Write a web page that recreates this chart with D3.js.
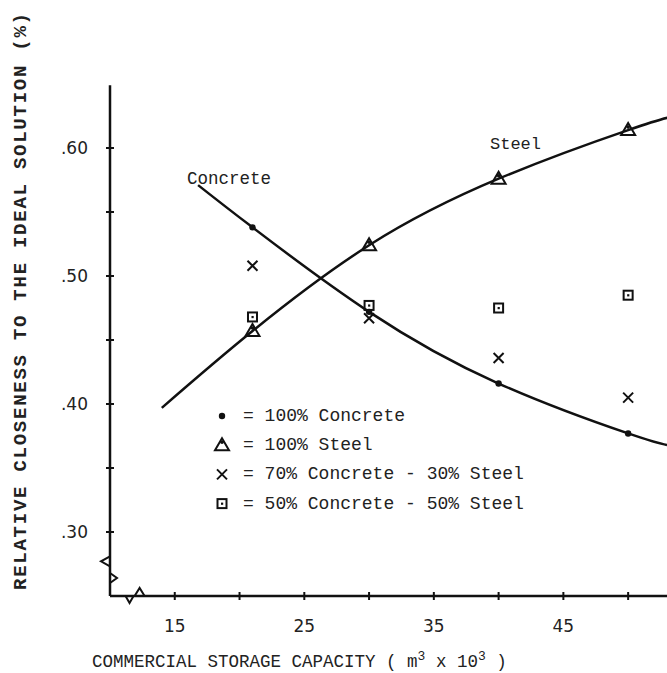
<!DOCTYPE html>
<html lang="en">
<head>
  <meta charset="UTF-8">
  <title>Relative closeness vs storage capacity</title>
  <script src="https://d3js.org/d3.v7.min.js"></script>
  <style>
    body { margin: 0; background: #fff; }
    .axis-line { stroke: #111; stroke-width: 2.5px; fill: none; }
    .curve { stroke: #111; stroke-width: 2.5px; fill: none; }
    .tick-label { font: 17px "DejaVu Sans", sans-serif; fill: #222; }
    .mono { font-family: "Liberation Mono", "DejaVu Sans Mono", monospace; fill: #222; }
  </style>
</head>
<body>
  <svg width="667" height="673"></svg>
  <script>
    // points (x in 1000 m3)
    const capacity = [21, 30, 40, 50];
    const concrete100 = [0.538, 0.472, 0.416, 0.377];
    const steel100 = [0.457, 0.524, 0.576, 0.614];
    const mix70_30 = [0.508, 0.467, 0.436, 0.405];
    const mix50_50 = [0.468, 0.477, 0.475, 0.485];

    // hand drawn fitted curves
    const concreteCurveX = [16.8, 21, 30, 40, 50, 53];
    const concreteCurveY = [0.571, 0.538, 0.472, 0.416, 0.377, 0.368];
    const steelCurveX = [14, 21, 30, 40, 50, 53.2];
    const steelCurveY = [0.397, 0.457, 0.524, 0.576, 0.614, 0.624];

    const xLabelTicks = [15, 25, 35, 45];
    const xMinorTicks = [20, 30, 40, 50];
    const yLabelTicks = [0.30, 0.40, 0.50, 0.60];
    const yMinorTicks = [0.35, 0.45, 0.55];

    const legendItems = ["100% Concrete", "100% Steel", "70% Concrete - 30% Steel", "50% Concrete - 50% Steel"];

    const svg = d3.select("svg");
    const x = d3.scaleLinear().domain([10, 53]).range([110, 667]);
    const y = d3.scaleLinear().domain([0.25, 0.65]).range([596, 84]);

    // axes
    svg.append("line").attr("class", "axis-line")
      .attr("x1", x(10)).attr("x2", x(10)).attr("y1", y(0.649)).attr("y2", y(0.25));
    svg.append("line").attr("class", "axis-line")
      .attr("x1", x(10)).attr("x2", x(53)).attr("y1", y(0.25)).attr("y2", y(0.25));

    yLabelTicks.concat(yMinorTicks).forEach(v => {
      svg.append("line").attr("class", "axis-line").style("stroke-width", 2)
        .attr("x1", x(10) - 4).attr("x2", x(10) + 4).attr("y1", y(v)).attr("y2", y(v));
    });
    yLabelTicks.forEach(v => {
      svg.append("text").attr("class", "tick-label")
        .attr("x", x(10) - 22).attr("y", y(v) + 6)
        .attr("text-anchor", "end")
        .text(d3.format(".2f")(v).replace(/^0/, ""));
    });
    xLabelTicks.concat(xMinorTicks).forEach(v => {
      svg.append("line").attr("class", "axis-line").style("stroke-width", 2)
        .attr("x1", x(v)).attr("x2", x(v)).attr("y1", y(0.25) - 4).attr("y2", y(0.25) + 4);
    });
    xLabelTicks.forEach(v => {
      svg.append("text").attr("class", "tick-label")
        .attr("x", x(v)).attr("y", y(0.25) + 36)
        .attr("text-anchor", "middle")
        .text(v);
    });

    // axis break marks
    const bx = x(10), by = y(0.25);
    svg.append("path").attr("class", "axis-line").style("stroke-width", 2)
      .attr("d", `M${bx},${y(0.268)} l7,5 l-7,5`);
    svg.append("path").attr("class", "axis-line").style("stroke-width", 2)
      .attr("d", `M${bx},${y(0.281)} l-9,5 l9,5`);
    svg.append("path").attr("class", "axis-line").style("stroke-width", 2)
      .attr("d", `M${x(11.9)},${by} l5,-8 l5,8`);
    svg.append("path").attr("class", "axis-line").style("stroke-width", 2)
      .attr("d", `M${x(11.2)},${by} l4,7 l4,-7`);

    // axis titles
    svg.append("text").attr("class", "mono")
      .attr("transform", `translate(26,${(13 + 590) / 2}) rotate(-90)`)
      .attr("text-anchor", "middle")
      .attr("textLength", 577).attr("lengthAdjust", "spacing")
      .style("font-size", "19px").style("font-weight", "bold")
      .text("RELATIVE CLOSENESS TO THE IDEAL SOLUTION (%)");

    const xt = svg.append("text").attr("class", "mono")
      .attr("x", 92).attr("y", 667).style("font-size", "17.5px");
    xt.append("tspan").text("COMMERCIAL STORAGE CAPACITY ( m");
    xt.append("tspan").attr("dy", -7).style("font-size", "13px").text("3");
    xt.append("tspan").attr("dy", 7).text(" x 10");
    xt.append("tspan").attr("dy", -7).style("font-size", "13px").text("3");
    xt.append("tspan").attr("dy", 7).text(" )");

    // curves
    const line = d3.line().x(d => x(d[0])).y(d => y(d[1])).curve(d3.curveNatural);
    svg.append("path").attr("class", "curve")
      .attr("d", line(d3.zip(concreteCurveX, concreteCurveY)));
    svg.append("path").attr("class", "curve")
      .attr("d", line(d3.zip(steelCurveX, steelCurveY)));

    svg.append("text").attr("class", "mono").style("font-size", "17.5px")
      .attr("x", 187).attr("y", 184).text("Concrete");
    svg.append("text").attr("class", "mono").style("font-size", "17px")
      .attr("x", 490).attr("y", 149).text("Steel");

    // markers
    function dot(g, cx, cy) {
      g.append("circle").attr("cx", cx).attr("cy", cy).attr("r", 3.2).attr("fill", "#111");
    }
    function tri(g, cx, cy) {
      g.append("path").attr("d", `M${cx},${cy - 7} L${cx + 7},${cy + 5} L${cx - 7},${cy + 5} Z`)
        .attr("fill", "none").attr("stroke", "#111").attr("stroke-width", 2);
      g.append("circle").attr("cx", cx).attr("cy", cy - 3).attr("r", 1.8).attr("fill", "#111");
    }
    function cross(g, cx, cy) {
      g.append("path").attr("d", `M${cx - 5},${cy - 5} L${cx + 5},${cy + 5} M${cx + 5},${cy - 5} L${cx - 5},${cy + 5}`)
        .attr("stroke", "#111").attr("stroke-width", 2).attr("fill", "none");
    }
    function sq(g, cx, cy) {
      g.append("rect").attr("x", cx - 4.5).attr("y", cy - 4.5).attr("width", 9).attr("height", 9)
        .attr("fill", "none").attr("stroke", "#111").attr("stroke-width", 2);
      g.append("rect").attr("x", cx - 1).attr("y", cy - 1).attr("width", 2.2).attr("height", 2.2).attr("fill", "#111");
    }

    const marks = svg.append("g");
    capacity.forEach((c, i) => {
      dot(marks, x(c), y(concrete100[i]));
      tri(marks, x(c), y(steel100[i]));
      cross(marks, x(c), y(mix70_30[i]));
      sq(marks, x(c), y(mix50_50[i]));
    });

    // legend
    const drawers = [dot, tri, cross, sq];
    const leg = svg.append("g");
    legendItems.forEach((t, i) => {
      const ly = 416 + i * 29.2;
      drawers[i](leg, 222, ly);
      leg.append("text").attr("class", "mono").style("font-size", "18px")
        .attr("x", 243).attr("y", ly + 5).text("= " + t);
    });
  </script>
</body>
</html>
